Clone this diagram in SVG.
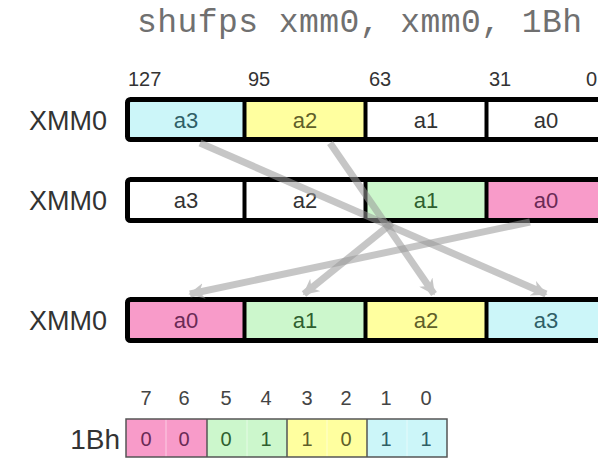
<svg xmlns="http://www.w3.org/2000/svg" width="598" height="460" viewBox="0 0 598 460">
<defs>
<style>
.t{font-family:"Liberation Sans",Arial,sans-serif;fill:#333}
.title{font-family:"Liberation Mono","Courier New",monospace;font-size:33px;fill:#707070}
.reg{font-size:27px;text-anchor:end}
.bitn{font-size:20px}
.cell{font-size:22px;text-anchor:middle}
.bl{font-size:20px;text-anchor:middle;fill:#444}
.bv{font-size:20px;text-anchor:middle}
.frame{fill:none;stroke:#000;stroke-width:5}
.div{stroke:#000;stroke-width:4}
.cy{fill:#ccf6f9}.ye{fill:#ffff9f}.gr{fill:#ccf7cc}.pk{fill:#f89bc9}.wh{fill:#fff}
.tcy{fill:#2f5f66}.tye{fill:#5f5f2a}.tgr{fill:#2f5f2f}.tpk{fill:#6a2a55}
.arr{stroke:#999;stroke-width:7;fill:none;opacity:0.55}
.bframe{fill:none;stroke:#555;stroke-width:1.5}
.bdiv{stroke:#555;stroke-width:1.5}
.bsub{stroke:#fff;stroke-width:1;opacity:0.5}
</style>
<marker id="ah" viewBox="0 0 10 10" refX="9" refY="5" markerWidth="16" markerHeight="16" markerUnits="userSpaceOnUse" orient="auto">
<path d="M0,0 L10,5 L0,10 L3,5 Z" fill="#999"/>
</marker>
</defs>
<rect width="598" height="460" fill="#fff"/>
<text class="title" x="137" y="32" textLength="445" lengthAdjust="spacing">shufps xmm0, xmm0, 1Bh</text>

<g id="bitpos" class="t bitn">
<text x="128" y="86">127</text>
<text x="248" y="86">95</text>
<text x="369" y="86">63</text>
<text x="489" y="86">31</text>
<text x="586" y="86">0</text>
</g>

<g id="row1">
<text class="t reg" x="107" y="130">XMM0</text>
<rect class="cy" x="128" y="99" width="118" height="42"/>
<rect class="ye" x="244" y="99" width="122" height="42"/>
<rect class="wh" x="365" y="99" width="122" height="42"/>
<rect class="wh" x="486" y="99" width="130" height="42"/>
<line class="div" x1="244.5" y1="99" x2="244.5" y2="141"/>
<line class="div" x1="365.5" y1="99" x2="365.5" y2="141"/>
<line class="div" x1="486.5" y1="99" x2="486.5" y2="141"/>
<rect class="frame" x="127.5" y="99.5" width="500" height="40" rx="3"/>
<text class="t cell tcy" x="186" y="128">a3</text>
<text class="t cell tye" x="305" y="128">a2</text>
<text class="t cell" x="426" y="128">a1</text>
<text class="t cell" x="546" y="128">a0</text>
</g>

<g id="row2">
<text class="t reg" x="107" y="210">XMM0</text>
<rect class="wh" x="128" y="179" width="118" height="42"/>
<rect class="wh" x="244" y="179" width="122" height="42"/>
<rect class="gr" x="365" y="179" width="122" height="42"/>
<rect class="pk" x="486" y="179" width="130" height="42"/>
<line class="div" x1="244.5" y1="179" x2="244.5" y2="221"/>
<line class="div" x1="365.5" y1="179" x2="365.5" y2="221"/>
<line class="div" x1="486.5" y1="179" x2="486.5" y2="221"/>
<rect class="frame" x="127.5" y="179.5" width="500" height="41" rx="3"/>
<text class="t cell" x="186" y="208">a3</text>
<text class="t cell" x="305" y="208">a2</text>
<text class="t cell tgr" x="426" y="208">a1</text>
<text class="t cell tpk" x="546" y="208">a0</text>
</g>

<g id="row3">
<text class="t reg" x="107" y="330">XMM0</text>
<rect class="pk" x="128" y="299" width="118" height="42"/>
<rect class="gr" x="244" y="299" width="122" height="42"/>
<rect class="ye" x="365" y="299" width="122" height="42"/>
<rect class="cy" x="486" y="299" width="130" height="42"/>
<line class="div" x1="244.5" y1="299" x2="244.5" y2="341"/>
<line class="div" x1="365.5" y1="299" x2="365.5" y2="341"/>
<line class="div" x1="486.5" y1="299" x2="486.5" y2="341"/>
<rect class="frame" x="127.5" y="299.5" width="500" height="41" rx="3"/>
<text class="t cell tpk" x="186" y="328">a0</text>
<text class="t cell tgr" x="305" y="328">a1</text>
<text class="t cell tye" x="426" y="328">a2</text>
<text class="t cell tcy" x="546" y="328">a3</text>
</g>

<g id="connectors">
<path class="arr" d="M200,143 L546,294" marker-end="url(#ah)"/>
<path class="arr" d="M330,143 L434,294" marker-end="url(#ah)"/>
<path class="arr" d="M392,223 L304,294" marker-end="url(#ah)"/>
<path class="arr" d="M530,222 L190,294" marker-end="url(#ah)"/>
</g>

<g id="imm">
<text class="t reg" x="120" y="449" style="font-size:28px">1Bh</text>
<g class="t bl">
<text x="146" y="405">7</text><text x="184" y="405">6</text>
<text x="226" y="405">5</text><text x="266" y="405">4</text>
<text x="307" y="405">3</text><text x="346" y="405">2</text>
<text x="386" y="405">1</text><text x="426" y="405">0</text>
</g>
<rect class="pk" x="126" y="419" width="81" height="38"/>
<rect class="gr" x="207" y="419" width="80" height="38"/>
<rect class="ye" x="287" y="419" width="80" height="38"/>
<rect class="cy" x="367" y="419" width="80" height="38"/>
<line class="bsub" x1="166" y1="419" x2="166" y2="457"/>
<line class="bsub" x1="247" y1="419" x2="247" y2="457"/>
<line class="bsub" x1="327" y1="419" x2="327" y2="457"/>
<line class="bsub" x1="407" y1="419" x2="407" y2="457"/>
<line class="bdiv" x1="207" y1="419" x2="207" y2="457"/>
<line class="bdiv" x1="287" y1="419" x2="287" y2="457"/>
<line class="bdiv" x1="367" y1="419" x2="367" y2="457"/>
<rect class="bframe" x="126" y="419" width="321" height="38"/>
<g class="t bv">
<text class="tpk" x="146" y="446">0</text><text class="tpk" x="184" y="446">0</text>
<text class="tgr" x="226" y="446">0</text><text class="tgr" x="266" y="446">1</text>
<text class="tye" x="307" y="446">1</text><text class="tye" x="346" y="446">0</text>
<text class="tcy" x="386" y="446">1</text><text class="tcy" x="426" y="446">1</text>
</g>
</g>
</svg>
